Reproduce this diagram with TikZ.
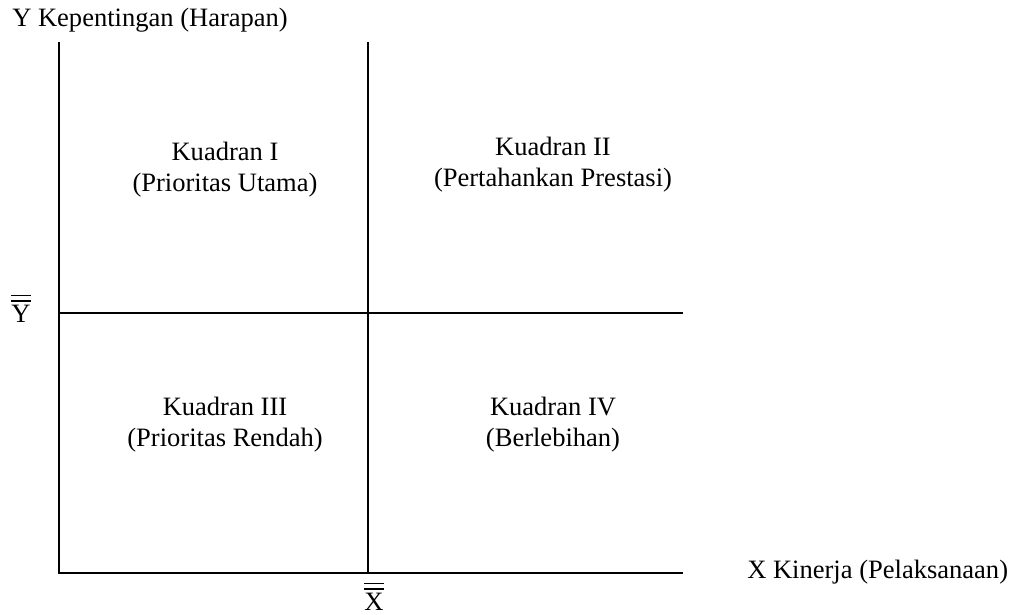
\documentclass[tikz,border=0pt]{standalone}
\usepackage{amsmath}
\usepackage{fontspec}
\setmainfont{Liberation Serif}
\usetikzlibrary{positioning,calc}

\tikzset{
  axis/.style={line width=1.2pt},
  quad/.style={align=center, font=\fontsize{19.9}{23.3}\selectfont, inner sep=0pt},
  lbl/.style={font=\fontsize{19.9}{23}\selectfont, inner sep=0pt}
}

\begin{document}
\begin{tikzpicture}[x=0.75pt, y=-0.75pt]
		\useasboundingbox (0,0) rectangle (1016,614);
		% frame of the diagram
		\coordinate (O) at (59,573);
		\coordinate (Ytop) at (59,42);
		\coordinate (Xend) at (683,573);
		\coordinate (Mtop) at (368,42);
		\coordinate (Mbot) at (368,573);
		\coordinate (Hleft) at (59,313);
		\coordinate (Hright) at (683,313);
		\draw[axis] (Ytop) -- (O) -- (Xend);
		\draw[axis] (Mtop) -- (Mbot);
		\draw[axis] (Hleft) -- (Hright);
		% axis labels
		\node[lbl, anchor=west] (ylab) at (12,20) {Y Kepentingan (Harapan)};
		\node[lbl, anchor=west] (xlab) at (747,572) {X Kinerja (Pelaksanaan)};
		\node[lbl] (ybar) at (21,308) {$\overline{\overline{\text{Y}}}$};
		\node[lbl] (xbar) at (374,596) {$\overline{\overline{\text{X}}}$};
		% quadrants
		\node[quad] (q1) at (225,170) {Kuadran I\\(Prioritas Utama)};
		\node[quad] (q2) at (553,165) {Kuadran II\\(Pertahankan Prestasi)};
		\node[quad] (q3) at (225,425) {Kuadran III\\(Prioritas Rendah)};
		\node[quad] (q4) at (553,425) {Kuadran IV\\(Berlebihan)};
\end{tikzpicture}
\end{document}
